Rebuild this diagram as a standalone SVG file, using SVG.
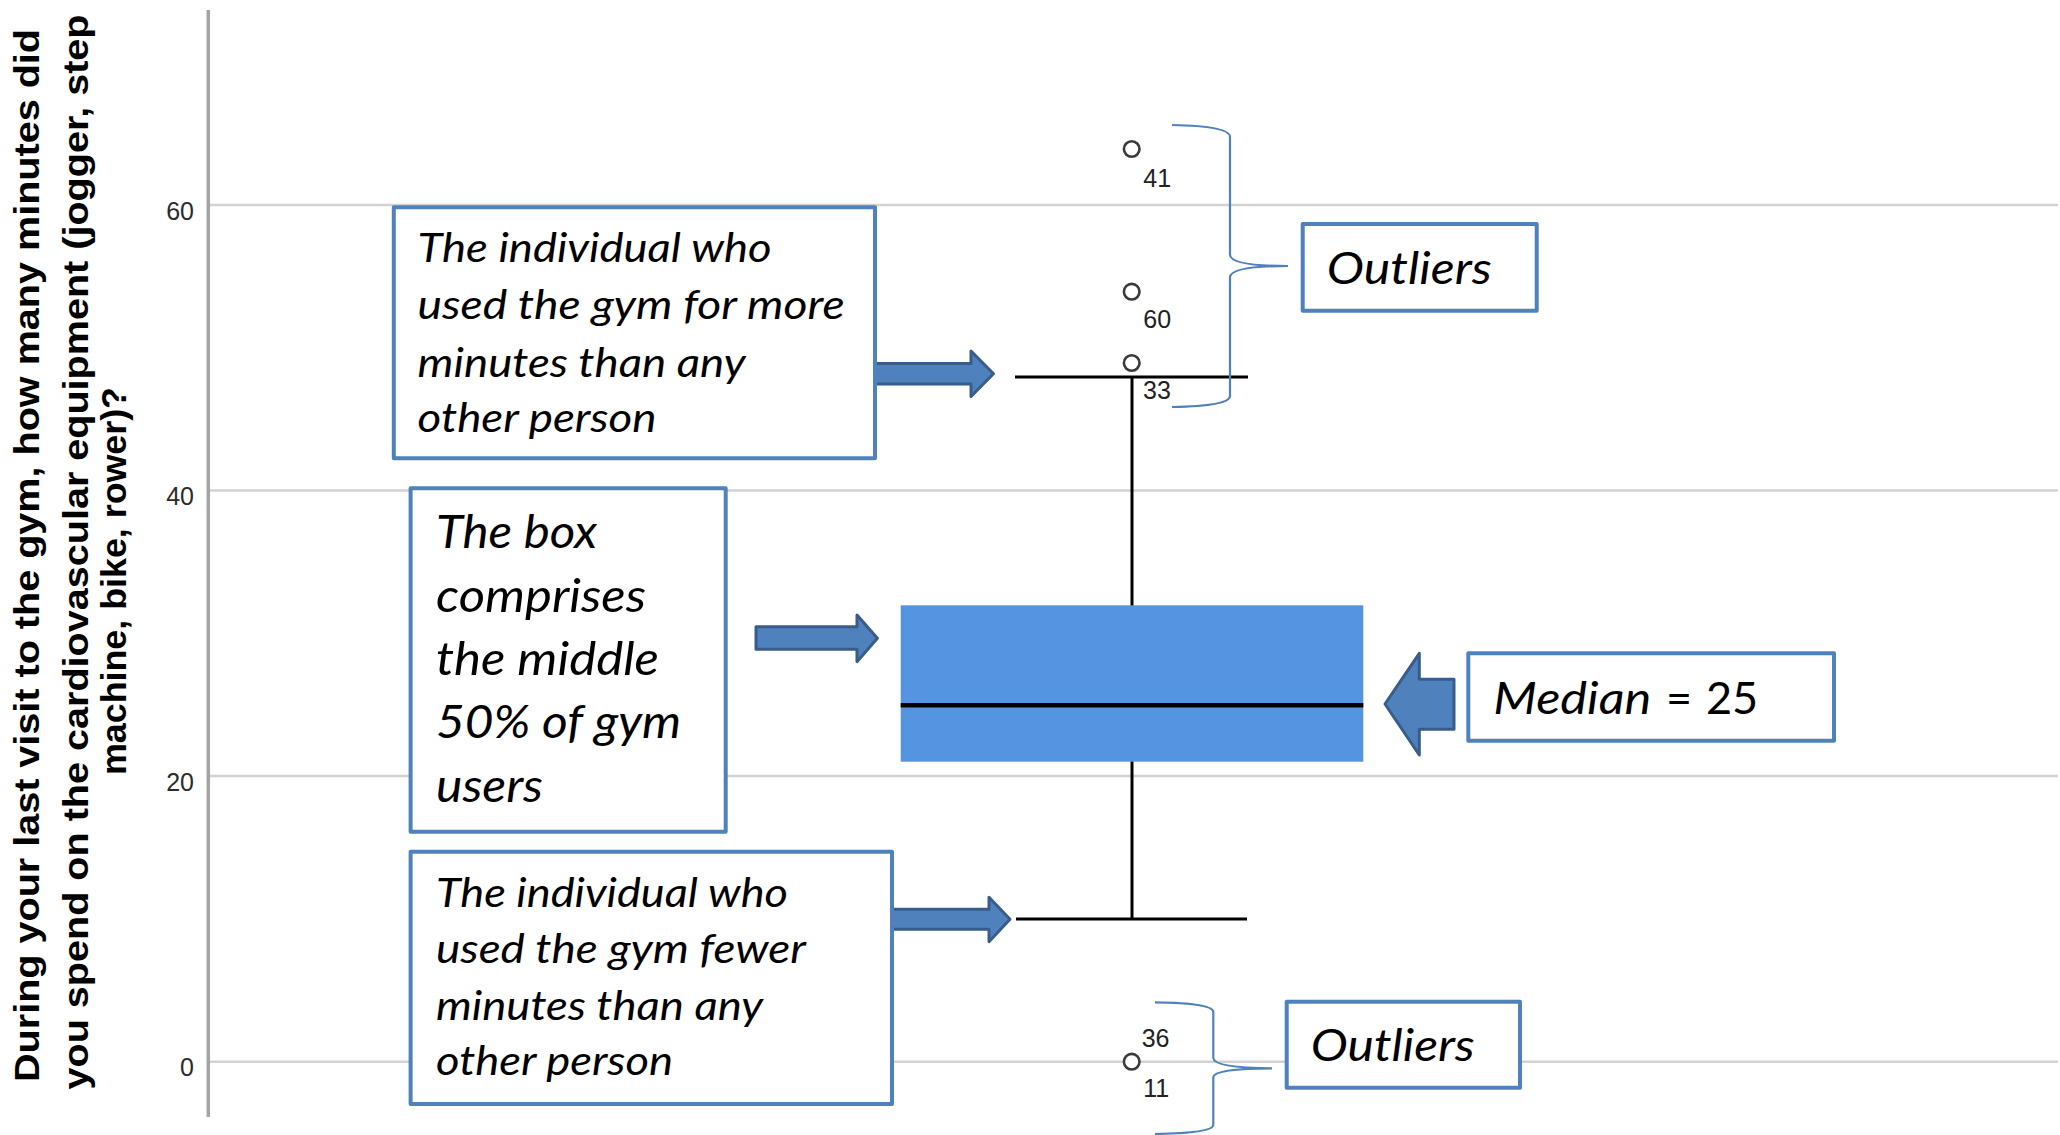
<svg xmlns="http://www.w3.org/2000/svg" width="2060" height="1135" viewBox="0 0 2060 1135">
<style>
.grid{stroke:#D2D2D2;stroke-width:2.5;fill:none}
.axis{stroke:#A4A4A4;stroke-width:3.5;fill:none}
.tick{font-family:"Liberation Sans",Arial,sans-serif;font-size:25px;fill:#2b2b2b;text-anchor:end}
.title{font-family:"Liberation Sans",Arial,sans-serif;font-weight:bold;font-size:35px;fill:#000;text-anchor:middle}
.olab{font-family:"Liberation Sans",Arial,sans-serif;font-size:25px;fill:#222}
.pt{fill:#fff;stroke:#3a3a3a;stroke-width:2.6}
.whisk{stroke:#000;stroke-width:3;fill:none}
.note{fill:#fff;stroke:#4F81BD;stroke-width:4;stroke-linejoin:round}
.lbl{font-family:Lato,"Open Sans","Liberation Sans",sans-serif;font-style:italic;fill:#000}
.up{font-style:normal}
.blk{fill:#4F81BD;stroke:#385D8A;stroke-width:3;stroke-linejoin:round}
.brace{fill:none;stroke:#4F81BD;stroke-width:2.2}
</style>
<rect width="2060" height="1135" fill="#fff"/>
<g id="gridlines">
<line class="grid" x1="209" y1="205" x2="2058" y2="205"/>
<line class="grid" x1="209" y1="490.6" x2="2058" y2="490.6"/>
<line class="grid" x1="209" y1="776.1" x2="2058" y2="776.1"/>
<line class="grid" x1="209" y1="1061.7" x2="2058" y2="1061.7"/>
</g>
<g id="y-axis">
<line class="axis" x1="208.3" y1="10" x2="208.3" y2="1117"/>
<text class="tick" x="194" y="219.5">60</text>
<text class="tick" x="194" y="505">40</text>
<text class="tick" x="194" y="790.6">20</text>
<text class="tick" x="194" y="1076">0</text>
<g transform="rotate(-90)">
<text class="title" x="-555.5" y="39.4" textLength="1053" lengthAdjust="spacingAndGlyphs">During your last visit to the gym, how many minutes did</text>
<text class="title" x="-552" y="87.5" textLength="1075" lengthAdjust="spacingAndGlyphs">you spend on the cardiovascular equipment (jogger, step</text>
<text class="title" x="-581" y="126" textLength="388" lengthAdjust="spacingAndGlyphs">machine, bike, rower)?</text>
</g>
</g>
<g id="boxplot">
<line class="whisk" x1="1132" y1="377" x2="1132" y2="606"/>
<line class="whisk" x1="1132" y1="761" x2="1132" y2="919"/>
<line class="whisk" x1="1015" y1="377" x2="1248" y2="377" stroke-width="3.5"/>
<line class="whisk" x1="1016" y1="919" x2="1247" y2="919" stroke-width="3.5"/>
<rect x="900.7" y="605.3" width="462.6" height="156.4" fill="#5494E1"/>
<line x1="900.7" y1="705.3" x2="1363.3" y2="705.3" stroke="#000" stroke-width="4.5"/>
</g>
<g id="outlier-points">
<circle class="pt" cx="1131.7" cy="149" r="7.8"/>
<circle class="pt" cx="1131.7" cy="291.7" r="7.8"/>
<circle class="pt" cx="1131.7" cy="363" r="7.8"/>
<circle class="pt" cx="1131.7" cy="1061.7" r="7.8"/>
<text class="olab" x="1143.3" y="186.7">41</text>
<text class="olab" x="1143.3" y="328.3">60</text>
<text class="olab" x="1143" y="399">33</text>
<text class="olab" x="1141.7" y="1047.3">36</text>
<text class="olab" x="1143.3" y="1097.3">11</text>
</g>
<g id="connectors">
<polygon class="blk" points="875,363.5 971,363.5 971,351 993.5,373.7 971,396.5 971,384 875,384"/>
<polygon class="blk" points="756,626.7 857,626.7 857,615 877.4,638.3 857,661.7 857,649.3 756,649.3"/>
<polygon class="blk" points="892,909.3 989,909.3 989,897.3 1010,919.3 989,941.7 989,929.3 892,929.3"/>
<polygon class="blk" stroke-width="4" points="1385,704 1419.3,653.3 1419.3,679.3 1454,679.3 1454,729.3 1419.3,729.3 1419.3,755"/>
<path class="brace" d="M1172,125 Q1230,126 1230,137 L1230,255 Q1231,266 1288,266 Q1231,266 1230,277 L1230,396 Q1230,406 1172,407"/>
<path class="brace" d="M1155,1002.3 Q1213.3,1003 1213.3,1012 L1213.3,1058 Q1214,1068 1272,1068.3 Q1214,1068.6 1213.3,1077 L1213.3,1125 Q1213.3,1133 1155,1134"/>
</g>
<g id="note-max">
<rect class="note" x="393.8" y="207.3" width="481.2" height="251"/>
<text class="lbl" font-size="40.5" x="417.6" y="262.3" textLength="354" lengthAdjust="spacingAndGlyphs">The individual who</text>
<text class="lbl" font-size="40.5" x="417.6" y="319.3" textLength="427" lengthAdjust="spacingAndGlyphs">used the gym for more</text>
<text class="lbl" font-size="40.5" x="417.6" y="376.7" textLength="328" lengthAdjust="spacingAndGlyphs">minutes than any</text>
<text class="lbl" font-size="40.5" x="417.6" y="431.7" textLength="239" lengthAdjust="spacingAndGlyphs">other person</text>
</g>
<g id="note-box">
<rect class="note" x="410.6" y="488.3" width="315.1" height="343.4"/>
<text class="lbl" font-size="46" x="436" y="548.3" textLength="161" lengthAdjust="spacingAndGlyphs">The box</text>
<text class="lbl" font-size="46" x="436" y="611.7" textLength="210" lengthAdjust="spacingAndGlyphs">comprises</text>
<text class="lbl" font-size="46" x="436" y="675" textLength="223" lengthAdjust="spacingAndGlyphs">the middle</text>
<text class="lbl" font-size="46" x="436" y="738.3" textLength="245" lengthAdjust="spacingAndGlyphs">50% of gym</text>
<text class="lbl" font-size="46" x="436" y="801.7" textLength="107" lengthAdjust="spacingAndGlyphs">users</text>
</g>
<g id="note-min">
<rect class="note" x="410.6" y="851.7" width="481.4" height="252.3"/>
<text class="lbl" font-size="40" x="436" y="906.7" textLength="352" lengthAdjust="spacingAndGlyphs">The individual who</text>
<text class="lbl" font-size="40" x="436" y="963.3" textLength="370" lengthAdjust="spacingAndGlyphs">used the gym fewer</text>
<text class="lbl" font-size="40" x="436" y="1020" textLength="327" lengthAdjust="spacingAndGlyphs">minutes than any</text>
<text class="lbl" font-size="40" x="436" y="1075" textLength="237" lengthAdjust="spacingAndGlyphs">other person</text>
</g>
<g id="note-outliers-top">
<rect class="note" x="1302.7" y="224" width="234" height="86.7"/>
<text class="lbl" font-size="45.5" x="1326.7" y="284.3" textLength="165" lengthAdjust="spacingAndGlyphs">Outliers</text>
</g>
<g id="note-outliers-bottom">
<rect class="note" x="1286.7" y="1001.7" width="233.3" height="86"/>
<text class="lbl" font-size="45.5" x="1310.7" y="1061" textLength="164" lengthAdjust="spacingAndGlyphs">Outliers</text>
</g>
<g id="note-median">
<rect class="note" x="1468.3" y="653.3" width="365.7" height="87.4"/>
<text class="lbl" font-size="45" y="714"><tspan x="1493.3" textLength="158" lengthAdjust="spacingAndGlyphs">Median</tspan><tspan class="up" x="1666">=</tspan><tspan class="up" x="1706">25</tspan></text>
</g>
</svg>
